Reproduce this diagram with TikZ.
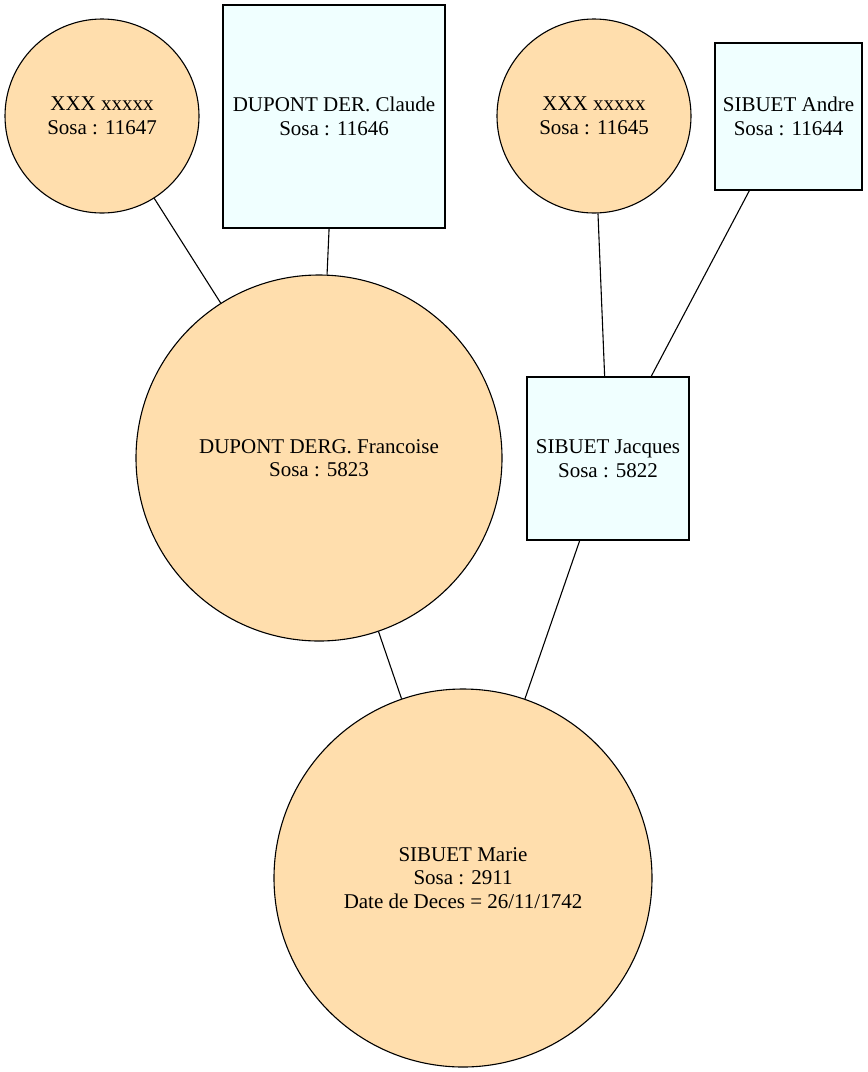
\documentclass[tikz,border=0pt]{standalone}
\usepackage{fontspec}
\setmainfont{Liberation Serif}
\definecolor{personF}{HTML}{FFDEAD}
\definecolor{personM}{HTML}{F0FFFF}
\begin{document}
\begin{tikzpicture}[x=1pt,y=-1pt,
  every node/.style={draw=black,line width=1.1pt,inner sep=0pt,align=center,
    font=\fontsize{21}{23.5}\selectfont},
  female/.style={circle,fill=personF,minimum size=#1},
  male/.style={rectangle,fill=personM},
  link/.style={draw=black,line width=1.1pt}]
\useasboundingbox (0,0) rectangle (868,1072);
% generation 3
\node[female=194pt] (p11647) at (102,116) {XXX xxxxx\\Sosa : 11647};
\node[male,minimum width=222pt,minimum height=223pt] (p11646) at (334,116.5) {DUPONT DER. Claude\\Sosa : 11646};
\node[female=194pt] (p11645) at (594,116) {XXX xxxxx\\Sosa : 11645};
\node[male,minimum width=147pt,minimum height=147pt] (p11644) at (788.5,116.5) {SIBUET Andre\\Sosa : 11644};
% generation 2
\node[female=366pt] (p5823) at (319,458) {DUPONT DERG. Francoise\\Sosa : 5823};
\node[male,minimum width=162pt,minimum height=163pt] (p5822) at (608,458.5) {SIBUET Jacques\\Sosa : 5822};
% generation 1
\node[female=378pt] (p2911) at (463,878) {SIBUET Marie\\Sosa : 2911\\Date de Deces = 26/11/1742};
% parent links
\draw[link] (p11647) -- (p5823);
\draw[link] (p11646) -- (p5823);
\draw[link] (p11645) -- (p5822);
\draw[link] (p11644) -- (p5822);
\draw[link] (p5823) -- (p2911);
\draw[link] (p5822) -- (p2911);
\end{tikzpicture}
\end{document}
